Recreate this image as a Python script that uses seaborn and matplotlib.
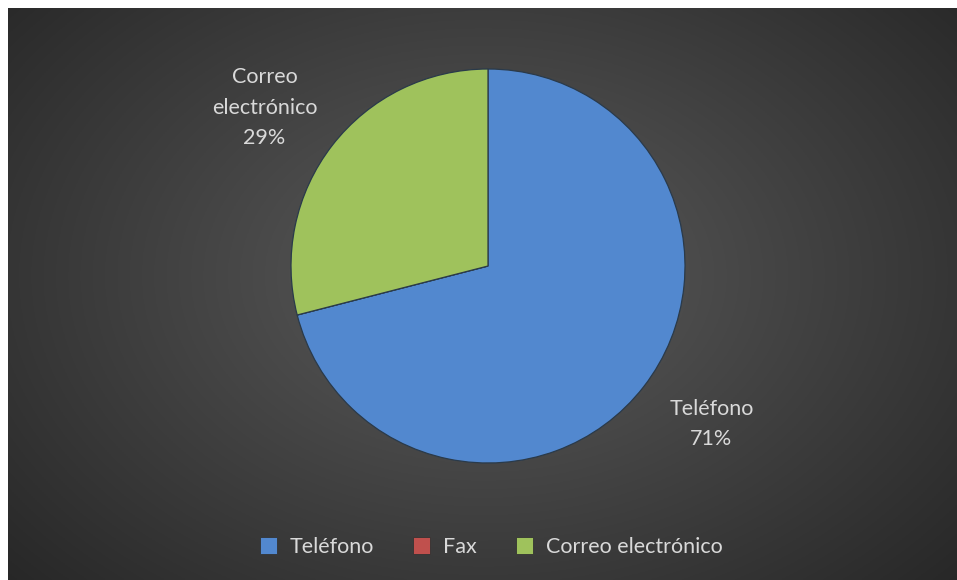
import matplotlib.pyplot as plt
import numpy as np
import seaborn as sns

# data
categories = ["Teléfono", "Fax", "Correo electrónico"]
label_text = ["Teléfono", "Fax", "Correo\nelectrónico"]
shares = [71, 0, 29]
colors = ["#5288cf", "#c0504d", "#9fc25c"]
text_color = "#d9d9d9"

sns.set_theme(style="dark")
plt.rcParams['font.family'] = ['Lato', 'DejaVu Sans']

W, H = 957, 580
fig = plt.figure(figsize=(W / 100, H / 100), dpi=100)
fig.patch.set_facecolor("white")

# dark radial gradient background (white strip on top/left like the screenshot)
bg = fig.add_axes([8 / W, 0, (W - 8) / W, (H - 8) / H])
yy, xx = np.mgrid[0:300, 0:500]
d = np.sqrt(((xx - 250) / 330.0) ** 2 + ((yy - 140) / 230.0) ** 2)
shade = np.clip(0.36 - 0.2 * d, 0.15, 0.36)
bg.imshow(np.dstack([shade, shade, shade]), aspect="auto", extent=[0, 1, 0, 1])
bg.set_axis_off()

# pie axes
cx, cy, r = 488, 266, 197
ax = fig.add_axes([(cx - r) / W, (H - cy - r) / H, 2 * r / W, 2 * r / H])
ax.set_facecolor("none")

labels = [f"{c}\n{v}%" if v > 0 else "" for c, v in zip(label_text, shares)]
wedges, texts = ax.pie(
    shares, colors=colors, startangle=90, counterclock=False,
    labels=labels, labeldistance=1.39,
    wedgeprops=dict(edgecolor="#2a3a4a", linewidth=0.9),
    textprops=dict(color=text_color, fontsize=15.5, linespacing=1.65),
)
# excel puts the data labels a little anticlockwise of the wedge middle
for w, t in zip(wedges, texts):
    ang = np.deg2rad((w.theta1 + w.theta2) / 2 + 2.5)
    t.set_position((1.39 * np.cos(ang), 1.39 * np.sin(ang)))
    t.set_ha("center")
    t.set_va("center")
ax.set_xlim(-1.0, 1.0)
ax.set_ylim(-1.0, 1.0)
ax.set_aspect("equal")

# legend with all three categories (Fax included)
handles = [plt.Rectangle((0, 0), 1, 1, facecolor=c, edgecolor="#333333", linewidth=0.6)
           for c in colors]
leg = fig.legend(handles, categories, loc="center", bbox_to_anchor=(491 / W, 1 - 547 / H),
                 ncol=3, frameon=False, fontsize=15.5, handlelength=0.8, handleheight=0.8,
                 handletextpad=0.6, columnspacing=1.8, labelcolor=text_color)

fig.savefig("out.png", dpi=100)
